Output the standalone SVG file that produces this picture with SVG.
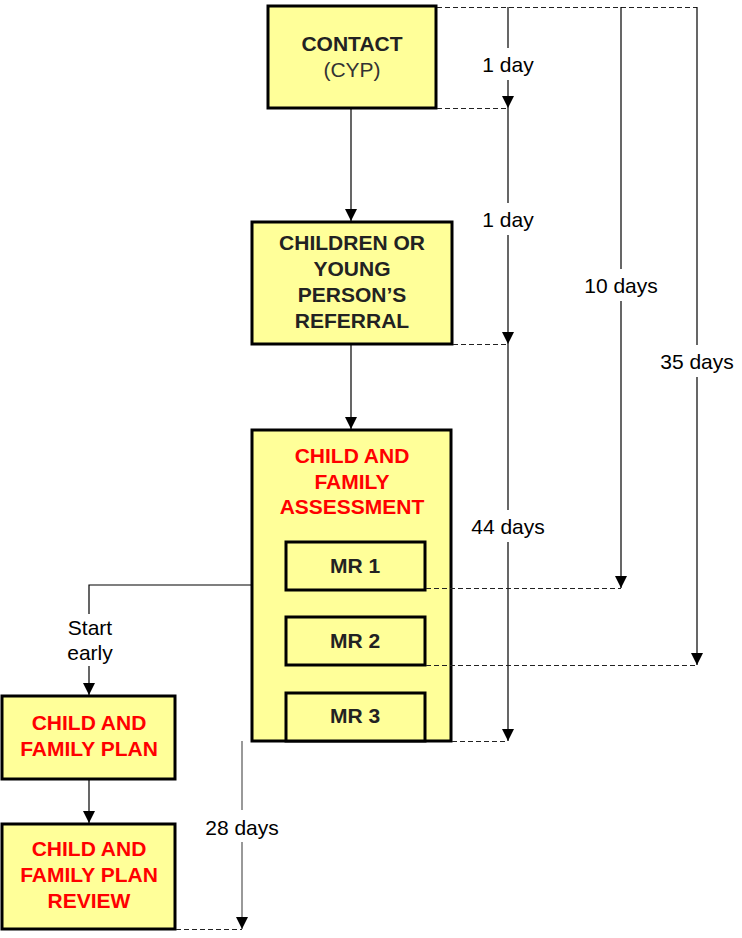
<svg xmlns="http://www.w3.org/2000/svg" width="742" height="938" viewBox="0 0 742 938">
<style>
.box{fill:#FFFF99;stroke:#000;stroke-width:3}
.sub{fill:#FFFF99;stroke:#000;stroke-width:3}
.t{font-family:"Liberation Sans",Arial,sans-serif;font-size:21px;text-anchor:middle}
.b{font-weight:bold;fill:#222}
.r{font-weight:bold;fill:#FF0000}
.n{fill:#000}
.ln{stroke:#000;stroke-width:1.2;fill:none}
.dash{stroke:#222;stroke-width:1;stroke-dasharray:5,3;fill:none}
</style>
<defs>
<marker id="ah" markerWidth="14" markerHeight="14" refX="12" refY="6" orient="auto" markerUnits="userSpaceOnUse">
<path d="M0,0 L12,6 L0,12 Z" fill="#000"/>
</marker>
</defs>
<rect width="742" height="938" fill="#fff"/>
<g id="contact">
<rect class="box" x="268" y="6" width="168" height="102"/>
<text class="t b" x="352" y="51">CONTACT</text>
<text class="t" x="352" y="77" fill="#333">(CYP)</text>
</g>
<g id="referral">
<rect class="box" x="252" y="222" width="200" height="122"/>
<text class="t b" x="352" y="250">CHILDREN OR</text>
<text class="t b" x="352" y="276">YOUNG</text>
<text class="t b" x="352" y="302">PERSON’S</text>
<text class="t b" x="352" y="328">REFERRAL</text>
</g>
<g id="assessment">
<rect class="box" x="252" y="430" width="199" height="311"/>
<text class="t r" x="352" y="463">CHILD AND</text>
<text class="t r" x="352" y="489">FAMILY</text>
<text class="t r" x="352" y="514">ASSESSMENT</text>
</g>
<g id="mr1">
<rect class="sub" x="286" y="542" width="139" height="48"/>
<text class="t b" x="355" y="573">MR 1</text>
</g>
<g id="mr2">
<rect class="sub" x="286" y="617" width="139" height="48"/>
<text class="t b" x="355" y="648">MR 2</text>
</g>
<g id="mr3">
<rect class="sub" x="286" y="693" width="139" height="48"/>
<text class="t b" x="355" y="723">MR 3</text>
</g>
<g id="plan">
<rect class="box" x="2" y="696" width="173" height="83"/>
<text class="t r" x="89" y="730">CHILD AND</text>
<text class="t r" x="89" y="756">FAMILY PLAN</text>
</g>
<g id="review">
<rect class="box" x="2" y="824" width="173" height="105"/>
<text class="t r" x="89" y="856">CHILD AND</text>
<text class="t r" x="89" y="882">FAMILY PLAN</text>
<text class="t r" x="89" y="908">REVIEW</text>
</g>
<g id="connectors">
<line class="ln" x1="351" y1="109" x2="351" y2="221" marker-end="url(#ah)"/>
<line class="ln" x1="351" y1="345" x2="351" y2="429" marker-end="url(#ah)"/>
<polyline class="ln" points="251,585 89,585 89,614"/>
<line class="ln" x1="89" y1="666" x2="89" y2="695" marker-end="url(#ah)"/>
<line class="ln" x1="89" y1="780" x2="89" y2="823" marker-end="url(#ah)"/>
<line class="dash" x1="437" y1="7.5" x2="697" y2="7.5"/>
<line class="ln" x1="508" y1="7" x2="508" y2="48"/>
<line class="ln" x1="508" y1="80" x2="508" y2="108" marker-end="url(#ah)"/>
<line class="dash" x1="437" y1="108.5" x2="508" y2="108.5"/>
<line class="ln" x1="508" y1="108" x2="508" y2="203"/>
<line class="ln" x1="508" y1="235" x2="508" y2="344" marker-end="url(#ah)"/>
<line class="dash" x1="453" y1="344.5" x2="508" y2="344.5"/>
<line class="ln" x1="508" y1="344" x2="508" y2="510"/>
<line class="ln" x1="508" y1="542" x2="508" y2="741" marker-end="url(#ah)"/>
<line class="dash" x1="452" y1="741.5" x2="508" y2="741.5"/>
<line class="ln" x1="621" y1="7" x2="621" y2="269"/>
<line class="ln" x1="621" y1="301" x2="621" y2="588" marker-end="url(#ah)"/>
<line class="dash" x1="426" y1="588.5" x2="621" y2="588.5"/>
<line class="ln" x1="697" y1="7" x2="697" y2="345"/>
<line class="ln" x1="697" y1="377" x2="697" y2="665" marker-end="url(#ah)"/>
<line class="dash" x1="426" y1="665.5" x2="697" y2="665.5"/>
<line x1="242" y1="741" x2="242" y2="810" stroke="#555" stroke-width="1.2"/>
<line x1="242" y1="842" x2="242" y2="929" stroke="#555" stroke-width="1.2" marker-end="url(#ah)"/>
<line class="dash" x1="176" y1="929.5" x2="242" y2="929.5"/>
<text class="t n" x="508" y="72">1 day</text>
<text class="t n" x="508" y="227">1 day</text>
<text class="t n" x="621" y="293">10 days</text>
<text class="t n" x="697" y="369">35 days</text>
<text class="t n" x="508" y="534">44 days</text>
<text class="t n" x="242" y="835">28 days</text>
<text class="t n" x="90" y="635">Start</text>
<text class="t n" x="90" y="660">early</text>
</g>
</svg>
